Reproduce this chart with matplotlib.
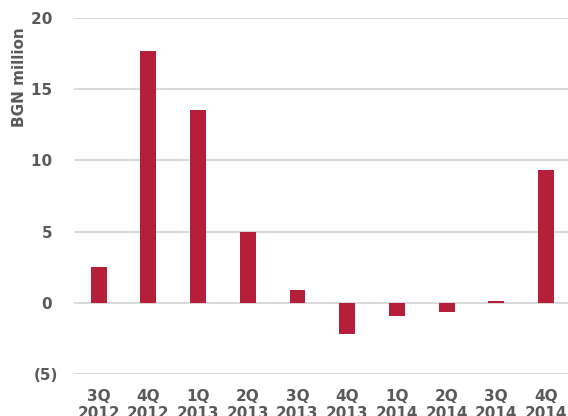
import matplotlib
matplotlib.use("Agg")
import matplotlib.pyplot as plt
from matplotlib.ticker import FuncFormatter

quarters = ["3Q\n2012", "4Q\n2012", "1Q\n2013", "2Q\n2013", "3Q\n2013",
            "4Q\n2013", "1Q\n2014", "2Q\n2014", "3Q\n2014", "4Q\n2014"]
values = [2.5, 17.7, 13.5, 5.0, 0.9, -2.2, -0.9, -0.65, 0.1, 9.3]
yticks = [-5, 0, 5, 10, 15, 20]

bar_color = "#b51f3a"
text_color = "#595959"
grid_color = "#d9d9d9"

plt.rcParams["font.family"] = ["DejaVu Sans"]

fig = plt.figure(figsize=(5.68, 4.16), dpi=100)
ax = fig.add_axes([0.130, 0.101, 0.875, 0.856])

x = range(len(values))
ax.bar(x, values, width=0.32, color=bar_color, zorder=3)

ax.set_xlim(-0.5, len(values) - 0.5)
ax.set_ylim(-5, 20)
ax.set_yticks(yticks)


def fmt(v, pos):
    # accounting style: negatives in brackets, positives padded for alignment
    if v < 0:
        return f"({abs(v):.0f})"
    return f"{v:.0f}\u2009\u2009"


ax.yaxis.set_major_formatter(FuncFormatter(fmt))
ax.set_xticks(list(x))
ax.set_xticklabels(quarters)

for spine in ax.spines.values():
    spine.set_visible(False)
ax.grid(axis="y", color=grid_color, linewidth=1.5, zorder=0)
ax.tick_params(axis="both", length=0, labelsize=11, labelcolor=text_color)
ax.tick_params(axis="y", pad=11)
ax.tick_params(axis="x", pad=10.5)
for lbl in ax.get_xticklabels() + ax.get_yticklabels():
    lbl.set_fontweight("bold")

ax.set_ylabel("BGN million", fontsize=11, fontweight="bold", color=text_color)
ax.yaxis.set_label_coords(-0.095, 0.833)

fig.savefig("out.png", dpi=100)
